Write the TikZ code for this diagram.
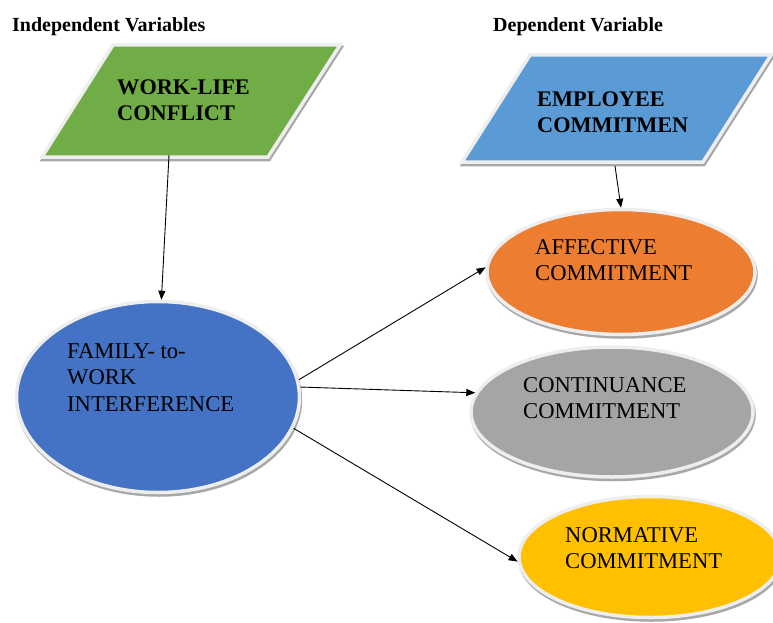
\documentclass[tikz,border=0pt]{standalone}
\usepackage{fontspec}
\setmainfont{Liberation Serif}
\usetikzlibrary{arrows.meta,shapes.geometric}
\definecolor{leaf}{HTML}{70AD47}
\definecolor{sky}{HTML}{5B9BD5}
\definecolor{royal}{HTML}{4472C4}
\definecolor{amber}{HTML}{ED7D31}
\definecolor{stone}{HTML}{A5A5A5}
\definecolor{gold}{HTML}{FFC000}
\definecolor{rim}{HTML}{EEEEEE}
\definecolor{shade}{HTML}{A8A8A8}
\newcommand{\headfont}{\bfseries\fontsize{20}{22}\selectfont}
\newcommand{\boxfont}{\bfseries\fontsize{22.3}{26}\selectfont}
\newcommand{\ovalfont}{\fontsize{22.6}{26.5}\selectfont}

\tikzset{
  rimmed/.style={draw=rim, line width=3.5pt,
    preaction={draw=shade, fill=shade, line width=3.5pt,
      transform canvas={shift={(1pt,-2.5pt)}}}},
  oval/.style={rimmed, ellipse, inner sep=0pt},
  tag/.style={anchor=north west, inner sep=0pt, align=left},
  link/.style={-{Triangle[length=9pt,width=7pt]}, line width=0.9pt}
}

\begin{document}
\begin{tikzpicture}[x=1pt,y=-1pt]
  \useasboundingbox (0,0) rectangle (773,623);

  \node[tag, font=\headfont] (indep) at (12,17) {Independent Variables};
  \node[tag, font=\headfont] (dep) at (493,17) {Dependent Variable};

  \path[rimmed, fill=leaf] (113,45) -- (340,45) -- (268,157) -- (42,157) -- cycle;
  \path[rimmed, fill=sky] (530,55) -- (771,55) -- (703,162) -- (462,162) -- cycle;
  \node[tag, font=\boxfont] (wlc) at (117,80) {WORK-LIFE\\CONFLICT};
  \node[tag, font=\boxfont] (emp) at (537,92) {EMPLOYEE\\COMMITMEN};

  \node[oval, fill=royal, minimum width=283pt, minimum height=191pt] (fam) at (158,397) {};
  \node[oval, fill=amber, minimum width=268pt, minimum height=125pt] (aff) at (621,272) {};
  \node[oval, fill=stone, minimum width=282pt, minimum height=130pt] (con) at (612,412) {};
  \node[oval, fill=gold, minimum width=262pt, minimum height=121pt] (nor) at (650,557) {};

  \node[tag, font=\ovalfont] (famtext) at (67,343) {FAMILY- to-\\WORK\\INTERFERENCE};
  \node[tag, font=\ovalfont] (afftext) at (535,239) {AFFECTIVE\\COMMITMENT};
  \node[tag, font=\ovalfont] (context) at (523,377) {CONTINUANCE\\COMMITMENT};
  \node[tag, font=\ovalfont] (nortext) at (565,527) {NORMATIVE\\COMMITMENT};

  \coordinate (wlc-foot) at (169,155);
  \coordinate (emp-foot) at (615,166);
  \draw[link] (wlc-foot) -- (fam.88);
  \draw[link] (emp-foot) -- (aff.north);
  \draw[link] (fam.7) -- (aff.178);
  \draw[link] (fam.4) -- (con.172);
  \draw[link] (fam.-13) -- (nor.182);
\end{tikzpicture}
\end{document}
